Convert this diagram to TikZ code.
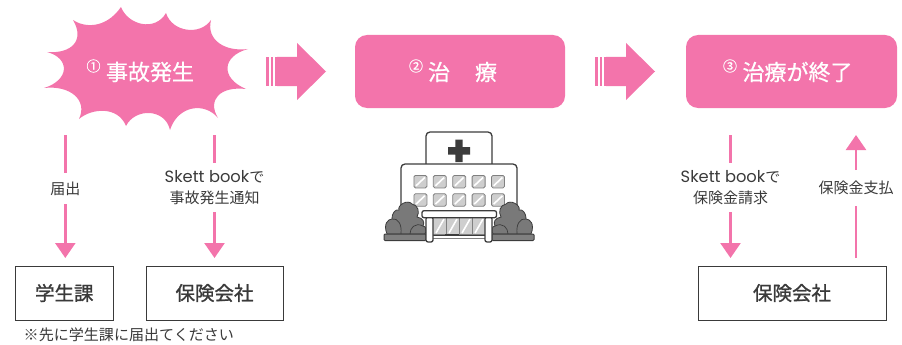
\documentclass[tikz,border=0pt]{standalone}
\usepackage{fontspec}
\setmainfont{Noto Sans CJK JP}
\newfontfamily\latinf{Poppins}
\newfontfamily\midf[FakeBold=0.7]{Noto Sans CJK JP}
\newfontfamily\boxf[FakeBold=1.2]{Noto Sans CJK JP}
\usetikzlibrary{arrows.meta}
\definecolor{pk}{HTML}{F374AB}
\definecolor{ink}{HTML}{3A3A3A}
\definecolor{hosp}{HTML}{3C3C3C}
\newcommand{\sk}{{\latinf\fontsize{16.3}{19.5}\selectfont Skett book}}
\tikzset{
  x=1pt,y=-1pt,
  head/.style={font=\midf\fontsize{22}{22}\selectfont,text=white,inner sep=0pt},
  num/.style={font=\midf\fontsize{14}{14}\selectfont,text=white,inner sep=0pt},
  pinkbox/.style={fill=pk,rounded corners=12pt,draw=none,minimum width=211pt,minimum height=73pt,inner sep=0pt},
  whitebox/.style={draw=ink,line width=1pt,inner sep=0pt,minimum height=54pt,font=\boxf\fontsize{19.5}{19.5}\selectfont,text=ink},
  lab/.style={font=\fontsize{15}{20.5}\selectfont,text=ink,align=center,inner sep=0pt},
  conn/.style={draw=pk,line width=2.5pt},
  connarrow/.style={conn,-{Triangle[width=20pt,length=15pt]},shorten >=7.5pt},
  bigarrow/.style={fill=pk,draw=none},
  wline/.style={draw=hosp,line width=1.3pt,rounded corners=2pt},
  bush/.style={fill=gray!95!black,draw=hosp,line width=.8pt},
  pane/.style={fill=hosp!25,draw=gray,line width=.8pt,rounded corners=1.5pt},
  slab/.style={fill=gray,draw=hosp,line width=1pt,rounded corners=1pt}
}
\begin{document}
\begin{tikzpicture}
\useasboundingbox (0,0) rectangle (902,345);
% burst
\fill[pk] (73,20) .. controls (83,27) and (105,30) .. (121,7)
  .. controls (128,25) and (155,32) .. (166,13)
  .. controls (172,32) and (200,36) .. (211,20)
  .. controls (206,40) and (225,52) .. (248,49)
  .. controls (222,56) and (220,78) .. (246,89)
  .. controls (220,86) and (207,100) .. (218,118)
  .. controls (205,102) and (178,105) .. (170,130)
  .. controls (165,108) and (135,108) .. (126,126)
  .. controls (118,106) and (92,108) .. (79,119)
  .. controls (88,100) and (70,85) .. (44,88)
  .. controls (70,80) and (70,58) .. (47,52)
  .. controls (72,54) and (85,40) .. (73,20) -- cycle;
\node[num] (n1) at (93.5,66) {①};
\node[head] (t1) at (150,72) {事故発生};
% big arrows
\foreach \xo/\nm in {0/ba,329/bb}{
  \fill[bigarrow,shift={(\xo,0)}] (277,57) -- (297,57) -- (297,43) -- (326,71.5) -- (297,100) -- (297,86) -- (277,86) -- cycle;
  \fill[bigarrow,shift={(\xo,0)}] (266,57) rectangle (268.5,86);
  \fill[bigarrow,shift={(\xo,0)}] (270.5,57) rectangle (272.5,86);
  \fill[bigarrow,shift={(\xo,0)}] (274.5,57) rectangle (277.5,86);
}
% pink boxes
\node[pinkbox,minimum width=210pt] (b2) at (460,71.5) {};
\node[num] (n2) at (416,66) {②};
\node[head] (t2) at (462.5,72) {治\hspace{3pt}　療};
\node[pinkbox] (b3) at (791.5,71.5) {};
\node[num] (n3) at (730,66) {③};
\node[head] (t3) at (797.5,72) {治療が終了};
% white boxes
\node[whitebox,minimum width=97.5pt] (gk) at (64.3,293) {学生課};
\node[whitebox,minimum width=137pt] (hk1) at (214.5,293) {保険会社};
\node[whitebox,minimum width=188pt] (hk2) at (792,293) {保険会社};
\node[font=\fontsize{15.05}{15}\selectfont,text=ink,inner sep=0pt,anchor=west] (note) at (23.5,334.5) {※先に学生課に届出てください};
% labels
\node[lab,minimum height=31pt] (l1) at (65.3,188.5) {届出};
\node[lab,minimum height=49pt] (l2) at (214.5,187.5) {\sk で\\事故発生通知};
\node[lab,minimum height=49pt] (l3) at (730.5,187.5) {\sk で\\保険金請求};
\node[lab,minimum height=35.5pt] (l4) at (856,188) {保険金支払};
% connectors
\coordinate (c1) at (65.3,135);
\coordinate (c2) at (214.5,135);
\coordinate (c3) at (730.5,135);
\coordinate (c4) at (856,135);
\draw[conn] (c1) -- (l1.north);
\draw[connarrow] (l1.south) -- (gk.north -| l1.south);
\draw[conn] (c2) -- (l2.north);
\draw[connarrow] (l2.south) -- (hk1.north);
\draw[conn] (c3) -- (l3.north);
\draw[connarrow] (l3.south) -- (hk2.north -| l3.south);
\draw[conn,shorten <=7.5pt] (hk2.north -| l4.south) -- (l4.south);
\draw[connarrow,shorten >=0pt] (l4.north) -- (c4);
% hospital
\draw[wline,fill=white,rounded corners=4pt] (426,164) -- (426,132) -- (492,132) -- (492,164);
\draw[wline,fill=white,rounded corners=4pt] (401,234) -- (401,164) -- (517,164) -- (517,234) -- cycle;
\fill[hosp] (455.3,139.5) rectangle (462.7,147) (448,147) rectangle (470,154.5) (455.3,154.5) rectangle (462.7,162);
\foreach \r in {175,193.3}{
  \foreach \i in {0,1,2,3,4}{
    \node[pane,inner sep=0pt,minimum width=13pt,minimum height=12.5pt,anchor=north west] (w\i) at ({413.5+19.4*\i},\r) {};
    \draw[white,line width=1.6pt] ([shift={(2.5,-2.5)}]w\i.south west) -- ([shift={(-2.5,2.5)}]w\i.north east);
  }
}
% bushes
\foreach \s/\o in {1/0,-1/918}{
  \begin{scope}[xshift=\o pt,xscale=\s]
    \fill[bush] (387,234) .. controls (383,224) and (388,219) .. (392,219)
      .. controls (392,212) and (396,209) .. (399,210)
      .. controls (397,205) and (408,199) .. (412,204)
      .. controls (418,205) and (420,212) .. (417,217)
      .. controls (423,218) and (425,222) .. (423,226)
      .. controls (427,226) and (426,232) .. (425,234) -- cycle;
    \draw[hosp,line width=.7pt] (392,219) .. controls (398,218) and (402,224) .. (401,234);
    \draw[hosp,line width=.7pt] (410,234) .. controls (410,228) and (415,222) .. (423,226);
    \draw[slab] (384,234) rectangle (426,240.5);
  \end{scope}
}
% entrance
\fill[hosp!25] (433,218) rectangle (485,234);
\foreach \x in {436,449,462,475}{
  \draw[white,line width=1.6pt] (\x,233) -- (\x+8,219);
}
\draw[gray,line width=.7pt] (446,218) -- (446,234) (459,218) -- (459,234) (472,218) -- (472,234);
\draw[hosp,line width=1pt] (433,235) -- (485,235);
\draw[hosp,line width=1.2pt] (445,234.5) -- (459,234.5);
\draw[gray,line width=1.4pt] (433,238.5) -- (485,238.5);
\draw[wline,fill=white] (426,217) rectangle (433,242);
\draw[wline,fill=white] (485,217) rectangle (492,242);
\draw[wline,fill=white] (422,210.7) rectangle (496.5,217.7);
\end{tikzpicture}
\end{document}
